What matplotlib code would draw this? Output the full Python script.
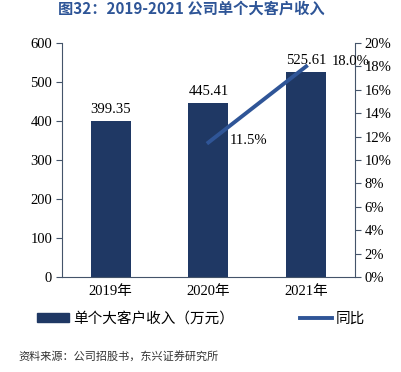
import matplotlib
matplotlib.use("Agg")
import matplotlib.pyplot as plt
from matplotlib.patches import Patch
from matplotlib.lines import Line2D
from matplotlib.ticker import FuncFormatter

plt.rcParams['font.family'] = ['Liberation Serif', 'Noto Sans CJK SC', 'DejaVu Sans']

years = ["2019年", "2020年", "2021年"]
revenue = [399.35, 445.41, 525.61]
yoy_years_idx = [1, 2]
yoy = [11.5, 18.0]

bar_color = "#1F3864"
line_color = "#2F5597"
spine_color = "#44546A"

fig = plt.figure(figsize=(4.02, 3.72), dpi=100)
ax = fig.add_axes([0.154, 0.2554, 0.729, 0.629])
x = list(range(len(years)))
ax.bar(x, revenue, width=0.41, color=bar_color, zorder=2)
ax.set_ylim(0, 600)
ax.set_xlim(-0.5, 2.5)
ax.set_yticks(range(0, 601, 100))
ax.set_xticks(x)
ax.set_xticklabels(years, fontsize=10.5)
ax.tick_params(axis='y', labelsize=10.5, direction='out', length=4, color=spine_color, pad=3)
ax.tick_params(axis='x', length=0, pad=6)
for s in ['top', 'right']:
    ax.spines[s].set_visible(False)
for s in ['left', 'bottom']:
    ax.spines[s].set_color(spine_color)

for xi, v in zip(x, revenue):
    ax.text(xi, v + 14, f"{v:.2f}", ha='center', va='bottom', fontsize=10.5)

ax2 = ax.twinx()
ax2.set_ylim(0, 20)
ax2.set_yticks(range(0, 21, 2))
ax2.yaxis.set_major_formatter(FuncFormatter(lambda v, p: f"{int(v)}%"))
ax2.tick_params(axis='y', labelsize=10.5, direction='out', length=4, color=spine_color, pad=3)
for s in ['top', 'left', 'bottom']:
    ax2.spines[s].set_visible(False)
ax2.spines['right'].set_color(spine_color)
ax2.plot(yoy_years_idx, yoy, color=line_color, linewidth=2.8, zorder=3)
ax2.text(yoy_years_idx[0] + 0.22, yoy[0] + 0.15, f"{yoy[0]:.1f}%", ha='left', va='center', fontsize=10.5)
ax2.text(yoy_years_idx[1] + 0.26, yoy[1] + 0.4, f"{yoy[1]:.1f}%", ha='left', va='center', fontsize=10.5)

handles = [Patch(color=bar_color), Line2D([0], [0], color=line_color, linewidth=2.8)]
fig.legend(handles, ["单个大客户收入（万元）", "同比"], loc='center', bbox_to_anchor=(0.5, 0.143),
           ncol=2, frameon=False, prop={'family': ['Noto Sans CJK SC'], 'size': 10.5},
           handlelength=2.2, handleheight=0.55, columnspacing=4.5, handletextpad=0.3)

fig.text(0.145, 0.999, "图32：2019-2021 公司单个大客户收入", fontsize=11, fontweight='bold',
         color="#2E5597", ha='left', va='top', family=['Noto Sans CJK SC'])
fig.text(0.045, 0.043, "资料来源：公司招股书，东兴证券研究所", fontsize=8, style='italic',
         color="#333333", ha='left', va='center', family=['Noto Sans CJK SC'])

fig.savefig("out.png", dpi=100)
